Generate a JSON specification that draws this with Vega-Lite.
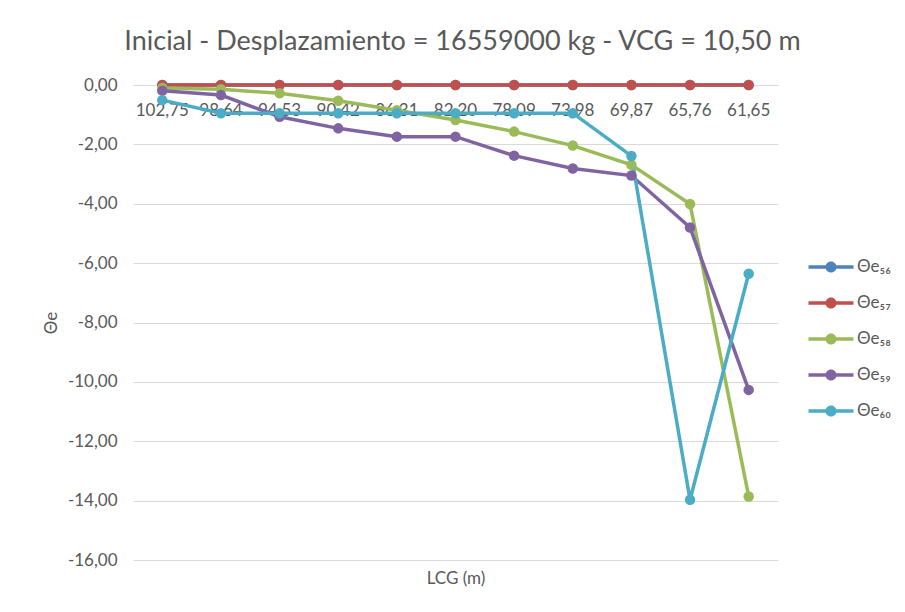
{
  "$schema": "https://vega.github.io/schema/vega-lite/v6.json",
  "width": 645,
  "height": 475,
  "autosize": {"type": "none"},
  "padding": {"left": 133, "top": 85, "right": 127, "bottom": 52},
  "background": "white",
  "config": {
    "font": "Lato",
    "view": {"stroke": null},
    "locale": {"number": {"decimal": ",", "thousands": ".", "grouping": [3], "currency": ["", " €"], "minus": "-"}}
  },
  "title": {
    "text": "Inicial - Desplazamiento = 16559000 kg - VCG = 10,50 m",
    "fontSize": 27,
    "fontWeight": "normal",
    "color": "#595959",
    "anchor": "middle",
    "baseline": "middle",
    "offset": 7,
    "dx": 7
  },
  "data": {"values": [
    {"lcg": "102,75", "serie": "Θe₅₆", "v": 0},
    {"lcg": "98,64", "serie": "Θe₅₆", "v": 0},
    {"lcg": "94,53", "serie": "Θe₅₆", "v": 0},
    {"lcg": "90,42", "serie": "Θe₅₆", "v": 0},
    {"lcg": "86,31", "serie": "Θe₅₆", "v": 0},
    {"lcg": "82,20", "serie": "Θe₅₆", "v": 0},
    {"lcg": "78,09", "serie": "Θe₅₆", "v": 0},
    {"lcg": "73,98", "serie": "Θe₅₆", "v": 0},
    {"lcg": "69,87", "serie": "Θe₅₆", "v": 0},
    {"lcg": "65,76", "serie": "Θe₅₆", "v": 0},
    {"lcg": "61,65", "serie": "Θe₅₆", "v": 0},
    {"lcg": "102,75", "serie": "Θe₅₇", "v": 0},
    {"lcg": "98,64", "serie": "Θe₅₇", "v": 0},
    {"lcg": "94,53", "serie": "Θe₅₇", "v": 0},
    {"lcg": "90,42", "serie": "Θe₅₇", "v": 0},
    {"lcg": "86,31", "serie": "Θe₅₇", "v": 0},
    {"lcg": "82,20", "serie": "Θe₅₇", "v": 0},
    {"lcg": "78,09", "serie": "Θe₅₇", "v": 0},
    {"lcg": "73,98", "serie": "Θe₅₇", "v": 0},
    {"lcg": "69,87", "serie": "Θe₅₇", "v": 0},
    {"lcg": "65,76", "serie": "Θe₅₇", "v": 0},
    {"lcg": "61,65", "serie": "Θe₅₇", "v": 0},
    {"lcg": "102,75", "serie": "Θe₅₈", "v": -0.10},
    {"lcg": "98,64", "serie": "Θe₅₈", "v": -0.14},
    {"lcg": "94,53", "serie": "Θe₅₈", "v": -0.28},
    {"lcg": "90,42", "serie": "Θe₅₈", "v": -0.53},
    {"lcg": "86,31", "serie": "Θe₅₈", "v": -0.85},
    {"lcg": "82,20", "serie": "Θe₅₈", "v": -1.18},
    {"lcg": "78,09", "serie": "Θe₅₈", "v": -1.57},
    {"lcg": "73,98", "serie": "Θe₅₈", "v": -2.04},
    {"lcg": "69,87", "serie": "Θe₅₈", "v": -2.69},
    {"lcg": "65,76", "serie": "Θe₅₈", "v": -4.01},
    {"lcg": "61,65", "serie": "Θe₅₈", "v": -13.86},
    {"lcg": "102,75", "serie": "Θe₅₉", "v": -0.19},
    {"lcg": "98,64", "serie": "Θe₅₉", "v": -0.34},
    {"lcg": "94,53", "serie": "Θe₅₉", "v": -1.07},
    {"lcg": "90,42", "serie": "Θe₅₉", "v": -1.46},
    {"lcg": "86,31", "serie": "Θe₅₉", "v": -1.74},
    {"lcg": "82,20", "serie": "Θe₅₉", "v": -1.74},
    {"lcg": "78,09", "serie": "Θe₅₉", "v": -2.38},
    {"lcg": "73,98", "serie": "Θe₅₉", "v": -2.81},
    {"lcg": "69,87", "serie": "Θe₅₉", "v": -3.05},
    {"lcg": "65,76", "serie": "Θe₅₉", "v": -4.80},
    {"lcg": "61,65", "serie": "Θe₅₉", "v": -10.27},
    {"lcg": "102,75", "serie": "Θe₆₀", "v": -0.51},
    {"lcg": "98,64", "serie": "Θe₆₀", "v": -0.95},
    {"lcg": "94,53", "serie": "Θe₆₀", "v": -0.95},
    {"lcg": "90,42", "serie": "Θe₆₀", "v": -0.95},
    {"lcg": "86,31", "serie": "Θe₆₀", "v": -0.95},
    {"lcg": "82,20", "serie": "Θe₆₀", "v": -0.95},
    {"lcg": "78,09", "serie": "Θe₆₀", "v": -0.95},
    {"lcg": "73,98", "serie": "Θe₆₀", "v": -0.95},
    {"lcg": "69,87", "serie": "Θe₆₀", "v": -2.39},
    {"lcg": "65,76", "serie": "Θe₆₀", "v": -13.97},
    {"lcg": "61,65", "serie": "Θe₆₀", "v": -6.36}
  ]},
  "encoding": {
    "x": {
      "field": "lcg",
      "type": "ordinal",
      "sort": null,
      "scale": {"type": "band", "paddingInner": 0, "paddingOuter": 0},
      "axis": {
        "title": "LCG (m)",
        "titleFontSize": 17,
        "titleFontWeight": "normal",
        "titleColor": "#595959",
        "titleY": 493,
        "titleBaseline": "middle",
        "labelAngle": 0,
        "labelFontSize": 17,
        "labelColor": "#595959",
        "labelPadding": 17,
        "labelBaseline": "top",
        "ticks": false,
        "domainColor": "#d9d9d9",
        "domainWidth": 1,
        "offset": -475,
        "grid": false
      }
    },
    "y": {
      "field": "v",
      "type": "quantitative",
      "scale": {"domain": [-16, 0], "nice": false},
      "axis": {
        "title": "Θe",
        "titleFontSize": 17,
        "titleFontWeight": "normal",
        "titleColor": "#595959",
        "titlePadding": 7,
        "values": [0, -2, -4, -6, -8, -10, -12, -14, -16],
        "format": ".2f",
        "labelFontSize": 17,
        "labelColor": "#595959",
        "labelPadding": 16,
        "ticks": false,
        "domain": false,
        "gridColor": "#d9d9d9",
        "gridWidth": 1
      }
    },
    "color": {
      "field": "serie",
      "type": "nominal",
      "scale": {
        "domain": ["Θe₅₆", "Θe₅₇", "Θe₅₈", "Θe₅₉", "Θe₆₀"],
        "range": ["#4f81bd", "#c0504d", "#9bbb59", "#8064a2", "#4bacc6"]
      },
      "legend": {
        "title": null,
        "orient": "none",
        "legendX": 683,
        "legendY": 167,
        "symbolType": "M-1.5,-0.12 H1.5 V0.12 H-1.5 Z M-0.37,0 A0.37,0.37 0 1,1 0.37,0 A0.37,0.37 0 1,1 -0.37,0 Z",
        "symbolSize": 900,
        "symbolStrokeWidth": 0,
        "labelFontSize": 17,
        "labelColor": "#595959",
        "labelOffset": 11,
        "rowPadding": 13,
        "padding": 0,
        "encode": {
          "symbols": {"update": {"fill": {"scale": "color", "field": "value"}, "fillOpacity": {"value": 1}, "strokeWidth": {"value": 0}}}
        }
      }
    }
  },
  "layer": [
    {"mark": {"type": "line", "strokeWidth": 3.5}},
    {"mark": {"type": "point", "filled": true, "size": 110, "opacity": 1}}
  ]
}
